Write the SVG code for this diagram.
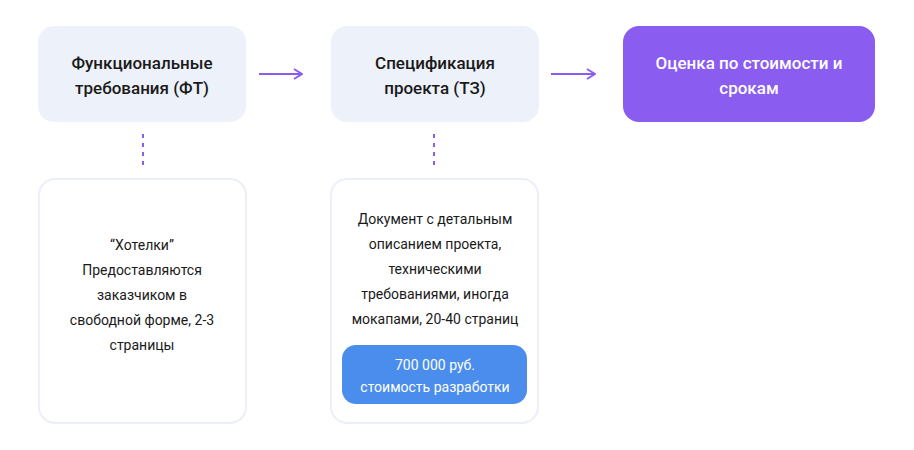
<svg xmlns="http://www.w3.org/2000/svg" width="914" height="450" viewBox="0 0 914 450">
<style>
text{font-family:Roboto,"Noto Sans",sans-serif;text-anchor:middle}
.h{font-size:17px;font-weight:500;fill:#1a1a1a}
.b{font-size:14px;fill:#1a1a1a}
.top{fill:#edf1f9}
.card{fill:#fff;stroke:#eceff7;stroke-width:2}
.arr{stroke:#8a5cf0;stroke-width:2;fill:none}
.dot{stroke:#8a5cf0;stroke-width:2;stroke-dasharray:4 5}
</style>
<defs><marker id="m" viewBox="0 0 10 12" refX="9" refY="6" markerWidth="10" markerHeight="12" markerUnits="userSpaceOnUse" orient="auto"><path d="M1 1L9 6L1 11" fill="none" stroke="#8a5cf0" stroke-width="2"/></marker></defs>
<rect width="914" height="450" fill="#fff"/>
<g id="ft"><rect class="top" x="38" y="26" width="208" height="96" rx="16"/><text class="h" x="142" y="69">Функциональные</text><text class="h" x="142" y="94">требования (ФТ)</text></g>
<g id="tz"><rect class="top" x="331" y="26" width="208" height="96" rx="16"/><text class="h" x="435" y="69">Спецификация</text><text class="h" x="435" y="94">проекта (ТЗ)</text></g>
<g id="est"><rect x="623" y="26" width="252" height="96" rx="16" fill="#8a5cf0"/><text class="h" x="749" y="69" fill="#fff" style="fill:#fff">Оценка по стоимости и</text><text class="h" x="749" y="94" style="fill:#fff">срокам</text></g>
<g id="ftnote"><rect class="card" x="39" y="179" width="207" height="244" rx="16"/>
<text class="b" x="142" y="250">“Хотелки”</text><text class="b" x="142" y="275">Предоставляются</text><text class="b" x="142" y="300">заказчиком в</text><text class="b" x="142" y="325">свободной форме, 2-3</text><text class="b" x="142" y="350">страницы</text></g>
<g id="tznote"><rect class="card" x="331" y="179" width="207" height="244" rx="16"/>
<text class="b" x="435" y="224">Документ с детальным</text><text class="b" x="435" y="249">описанием проекта,</text><text class="b" x="435" y="274">техническими</text><text class="b" x="435" y="299">требованиями, иногда</text><text class="b" x="435" y="324">мокапами, 20-40 страниц</text>
<rect x="342" y="345" width="185" height="59" rx="14" fill="#4b8ded"/>
<text class="b" x="435" y="370" style="fill:#fff">700 000 руб.</text><text class="b" x="435" y="392" style="fill:#fff">стоимость разработки</text></g>
<g id="connectors">
<line class="arr" x1="259" y1="74" x2="302" y2="74" marker-end="url(#m)"/>
<line class="arr" x1="551" y1="74" x2="595" y2="74" marker-end="url(#m)"/>
<line class="dot" x1="143" y1="134" x2="143" y2="167"/>
<line class="dot" x1="434" y1="134" x2="434" y2="167"/>
</g>
</svg>
